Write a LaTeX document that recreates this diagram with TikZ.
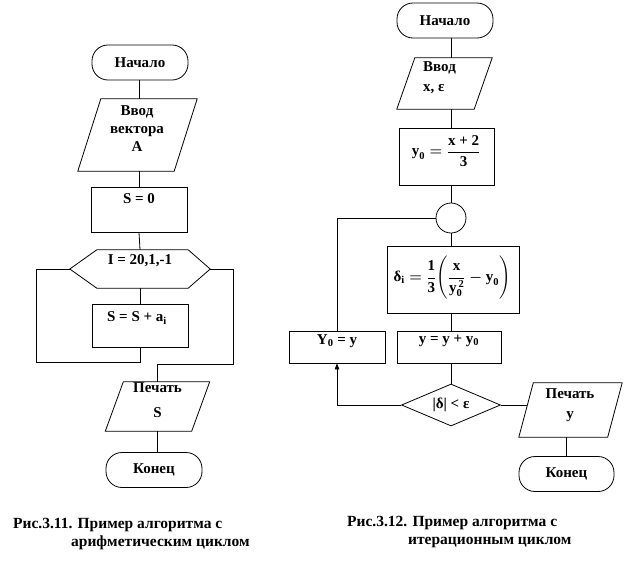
\documentclass[tikz,border=0pt]{standalone}
\usepackage{amsmath}
\usepackage{fontspec}
\setmainfont{Liberation Serif}
\usetikzlibrary{shapes.geometric,arrows.meta}
\newcommand\paradraw[2]{\draw[ln] ([xshift=#2pt]#1.north west) -- (#1.north east) -- ([xshift=-#2pt]#1.south east) -- (#1.south west) -- cycle;}
\begin{document}
\begin{tikzpicture}[x=1pt,y=-1pt,
  every node/.style={font=\bfseries\fontsize{15}{17}\selectfont, inner sep=0pt},
  ln/.style={draw=black, line width=0.8pt},
  blk/.style={ln, rectangle, inner sep=0pt},
  term/.style={ln, rectangle, rounded corners=16pt, minimum width=96pt, minimum height=35pt},
  shp/.style={rectangle, inner sep=0pt},
  txt/.style={align=center},
  captxt/.style={anchor=west, font=\bfseries\fontsize{15.5}{18}\selectfont}]
\fill[white] (0,0) rectangle (625,576);
\useasboundingbox (0,0) rectangle (625,576);

% ---------- left chart ----------
\node[term] (start1) at (140,62.5) {Начало};
\node[shp, minimum width=119pt, minimum height=72pt] (in1) at (137.5,135) {};
\paradraw{in1}{23}
\node[txt, font=\bfseries\fontsize{15}{18}\selectfont] (in1t) at (137,129) {Ввод\\вектора\\A};
\node[blk, minimum width=96pt, minimum height=45pt] (s0) at (139,209.5) {};
\node (s0t) at (139,199) {S = 0};
\node[shp, minimum width=140pt, minimum height=38pt] (hex) at (140,269) {};
\draw[ln] (hex.west) -- ([xshift=27pt]hex.north west) -- ([xshift=-22pt]hex.north east) -- (hex.east) -- ([xshift=-22pt]hex.south east) -- ([xshift=27pt]hex.south west) -- cycle;
\node (hext) at (140,261) {I = 20,1,-1};
\node[blk, minimum width=96pt, minimum height=43pt] (body) at (140,325.5) {};
\node (bodyt) at (137,318) {S = S + a\textsubscript{i}};
\node[shp, minimum width=104pt, minimum height=49pt] (out1) at (157.5,406.5) {};
\paradraw{out1}{18}
\node[txt, font=\bfseries\fontsize{15}{25}\selectfont] (out1t) at (157.5,400) {Печать\\S};
\node[term] (end1) at (154,470) {Конец};
\coordinate (lp1) at (36,362);
\coordinate (rp1) at (233,364);

\draw[ln] (start1.south -| s0) -- (in1.north -| s0);
\draw[ln] (in1.south -| s0) -- (s0.north);
\draw[ln] (s0.south) -- (hex.north);
\draw[ln] (hex.south) -- (body.north);
\draw[ln] (body.south) |- (lp1) |- (hex.west);
\draw[ln] (hex.east) -| (rp1) -| (out1.north);
\draw[ln] (out1.south) -- (out1.south |- end1.north);

\node[captxt] (cap1a) at (13,525) {Рис.3.11. Пример алгоритма с};
\node[captxt] (cap1b) at (71,543) {арифметическим циклом};

% ---------- right chart ----------
\node[term] (start2) at (445,20.5) {Начало};
\node[shp, minimum width=95pt, minimum height=51pt] (in2) at (444.5,83.5) {};
\paradraw{in2}{18}
\node[align=left, anchor=west, font=\bfseries\fontsize{15}{20}\selectfont] (in2t) at (423,78) {Ввод\\x, ε};
\node[blk, minimum width=95pt, minimum height=57pt] (y0b) at (446.5,156.5) {};
\node[font=\bfseries\boldmath\fontsize{15}{17}\selectfont] (y0t) at (446,151) {$\text{y}_{\text{0}} = \dfrac{\text{x + 2}}{\text{3}}$};
\node[ln, circle, minimum size=30pt] (circ) at (451,218) {};
\node[blk, minimum width=132pt, minimum height=67pt] (db) at (453,279.5) {};
\node[font=\bfseries\boldmath\fontsize{15}{17}\selectfont] (dbt) at (452,278) {$\text{δ}_{\text{i}} = \dfrac{\text{1}}{\text{3}}\Biggl(\dfrac{\text{x}}{\text{y}_{\text{0}}^{\,\text{2}}} - \text{y}_{\text{0}}\Biggr)$};
\node[blk, minimum width=104pt, minimum height=32pt] (yb) at (449,347) {};
\node (ybt) at (449,341) {y = y + y\textsubscript{0}};
\node[blk, minimum width=96pt, minimum height=32pt] (Y0b) at (337,347) {};
\node (Y0bt) at (337,341) {Y\textsubscript{0} = y};
\node[ln, diamond, minimum width=99pt, minimum height=42pt, aspect=2.36] (dia) at (451,405) {|δ| < ε};
\node[shp, minimum width=103pt, minimum height=54pt] (out2) at (570.5,410) {};
\paradraw{out2}{14.5}
\node[txt, font=\bfseries\fontsize{15}{20}\selectfont] (out2t) at (570,405) {Печать\\y};
\node[term, minimum width=95pt] (end2) at (566.5,474) {Конец};
\coordinate (out2in) at (527,405);

\draw[ln] (start2.south -| circ) -- (in2.north -| circ);
\draw[ln] (in2.south -| circ) -- (y0b.north -| circ);
\draw[ln] (y0b.south -| circ) -- (circ.north);
\draw[ln] (circ.south) -- (db.north -| circ);
\draw[ln] (db.south -| circ) -- (yb.north -| circ);
\draw[ln] (yb.south -| circ) -- (dia.north);
\draw[ln] (circ.west) -| (Y0b.north);
\draw[ln, -{Triangle[length=6pt,width=4.5pt]}] (dia.west) -| (Y0b.south);
\draw[ln] (dia.east) -- (out2in);
\draw[ln] (end2.north |- out2.south) -- (end2.north);

\node[captxt] (cap2a) at (347,523) {Рис.3.12. Пример алгоритма с};
\node[captxt] (cap2b) at (408,542) {итерационным циклом};
\end{tikzpicture}
\end{document}
